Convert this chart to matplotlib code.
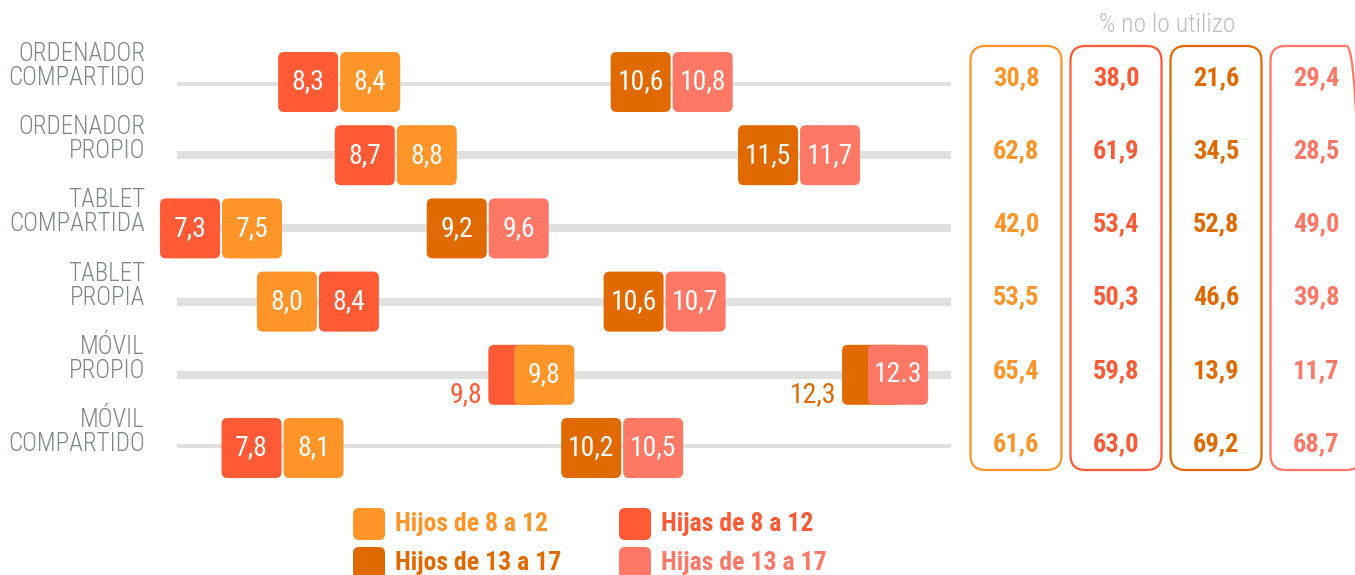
import matplotlib
matplotlib.use("Agg")
import matplotlib.pyplot as plt
from matplotlib.patches import FancyBboxPatch
from matplotlib.transforms import ScaledTranslation, blended_transform_factory

# ---------------- data ----------------
categories = ["ORDENADOR\nCOMPARTIDO", "ORDENADOR\nPROPIO", "TABLET\nCOMPARTIDA",
              "TABLET\nPROPIA", "MÓVIL\nPROPIO", "MÓVIL\nCOMPARTIDO"]
series_names = ["Hijos de 8 a 12", "Hijas de 8 a 12", "Hijos de 13 a 17", "Hijas de 13 a 17"]
colors = ["#FF9429", "#FF5A36", "#E06A00", "#FF7866"]

# mean age of first use
hijos_8_12 = [8.4, 8.8, 7.5, 8.0, 9.8, 8.1]
hijas_8_12 = [8.3, 8.7, 7.3, 8.4, 9.8, 7.8]
hijos_13_17 = [10.6, 11.5, 9.2, 10.6, 12.3, 10.2]
hijas_13_17 = [10.8, 11.7, 9.6, 10.7, 12.3, 10.5]

# % no lo utilizo
no_uso_hijos_8_12 = [30.8, 62.8, 42.0, 53.5, 65.4, 61.6]
no_uso_hijas_8_12 = [38.0, 61.9, 53.4, 50.3, 59.8, 63.0]
no_uso_hijos_13_17 = [21.6, 34.5, 52.8, 46.6, 13.9, 69.2]
no_uso_hijas_13_17 = [29.4, 28.5, 49.0, 39.8, 11.7, 68.7]

panel_title = "% no lo utilizo"
label_override = {(3, 4): "12.3"}  # as printed in the original

series = [hijos_8_12, hijas_8_12, hijos_13_17, hijas_13_17]
no_uso = [no_uso_hijos_8_12, no_uso_hijas_8_12, no_uso_hijos_13_17, no_uso_hijas_13_17]

FONT = ["Roboto Condensed", "Liberation Sans Narrow", "Roboto", "DejaVu Sans"]
plt.rcParams["font.family"] = FONT


def fmt(v):
    return f"{v:.1f}".replace(".", ",")


W, H, DPI = 1355, 575, 100
fig = plt.figure(figsize=(W / DPI, H / DPI), dpi=DPI)
fig.patch.set_facecolor("white")


def px_rect(x0, y0, x1, y1):
    return [x0 / W, 1 - y1 / H, (x1 - x0) / W, (y1 - y0) / H]


ax = fig.add_axes(px_rect(177, 82, 951, 448))
xmin, xmax = 7.204, 12.674
ax.set_xlim(xmin, xmax)
ax.set_ylim(len(categories) - 1, 0)
ax.axis("off")

kpx = (951 - 177) / (xmax - xmin)  # pixels per unit

# tracks
for i in range(len(categories)):
    ax.plot([xmin, xmax], [i, i], color="#E0E0DE", lw=5.8, solid_capstyle="round", zorder=1)

# row labels
lab_tr = blended_transform_factory(fig.dpi_scale_trans, ax.transData)
for i, c in enumerate(categories):
    ax.text(145 / DPI, i, c, transform=lab_tr + ScaledTranslation(0, 16 / DPI, fig.dpi_scale_trans),
            ha="right", va="center", fontsize=18, fontweight="light", color="#7E8886",
            linespacing=1.0, clip_on=False)

SQ = 60  # marker size px
GAP = 62


def draw_marker(si, i, v, dx, z, show_text=True):
    tr = fig.dpi_scale_trans + ScaledTranslation(v, i, ax.transData)
    s = SQ / DPI
    p = FancyBboxPatch((-s / 2 + dx / DPI, -s / 2), s, s,
                       boxstyle="round,pad=0,rounding_size=0.06",
                       transform=tr, fc=colors[si], ec="none", zorder=z, clip_on=False)
    ax.add_patch(p)
    if show_text:
        txt = label_override.get((si, i), fmt(v))
        ax.text(v, i, txt,
                transform=ax.transData + ScaledTranslation(dx / DPI, 0, fig.dpi_scale_trans),
                ha="center", va="center", color="white", fontsize=20, fontweight="normal",
                zorder=z + 0.5, clip_on=False)


pairs = [(1, 0), (2, 3)]  # (drawn below, drawn on top)
z = 2
for i in range(len(categories)):
    for (b, t) in pairs:
        vb, vt = series[b][i], series[t][i]
        same = vb == vt
        if same:
            db, dt = -26, 0
        else:
            d = abs(vt - vb) * kpx
            s = max(0, (GAP - d) / 2)
            db = -s if vb < vt else s
            dt = -db
        # keep markers inside left boundary
        cb = 177 + (vb - xmin) * kpx + db
        ct = 177 + (vt - xmin) * kpx + dt
        shift = max(0, 190 - min(cb, ct))
        db += shift
        dt += shift
        draw_marker(b, i, vb, db, z, show_text=not same)
        draw_marker(t, i, vt, dt, z + 1)
        if same:
            ax.text(vb, i, fmt(vb),
                    transform=ax.transData + ScaledTranslation((db - SQ / 2 - 6) / DPI, -20 / DPI,
                                                               fig.dpi_scale_trans),
                    ha="right", va="center", color=colors[b], fontsize=20, fontweight="normal",
                    clip_on=False)
        z += 2

# right panel
col_centers = [1016, 1116, 1216, 1316]
box_w = 91
for j, cx in enumerate(col_centers):
    x0 = cx - box_w / 2
    p = FancyBboxPatch((x0 / DPI, (H - 470) / DPI), box_w / DPI, (470 - 46) / DPI,
                       boxstyle="round,pad=0,rounding_size=0.15",
                       transform=fig.dpi_scale_trans, fc="none", ec=colors[j], lw=1.6)
    fig.add_artist(p)
    for i in range(len(categories)):
        ax.text(cx / DPI, i, fmt(no_uso[j][i]),
                transform=lab_tr + ScaledTranslation(0, 4 / DPI, fig.dpi_scale_trans),
                ha="center", va="center", color=colors[j], fontsize=19, fontweight="bold",
                clip_on=False)

fig.text(1167 / W, 1 - 25 / H, panel_title, ha="center", va="center", fontsize=18.5,
         fontweight="light", color="#BFBFBF")

# legend
leg_pos = [(353, 524), (619, 524), (353, 563), (619, 563)]
leg_order = [0, 1, 2, 3]
for (lx, ly), si in zip(leg_pos, leg_order):
    p = FancyBboxPatch((lx / DPI, (H - ly - 16) / DPI), 32 / DPI, 32 / DPI,
                       boxstyle="round,pad=0,rounding_size=0.06",
                       transform=fig.dpi_scale_trans, fc=colors[si], ec="none")
    fig.add_artist(p)
    fig.text((lx + 42) / W, 1 - ly / H, series_names[si], ha="left", va="center",
             fontsize=18.5, fontweight="bold", color=colors[si])

fig.savefig("out.png", dpi=DPI, facecolor="white")
